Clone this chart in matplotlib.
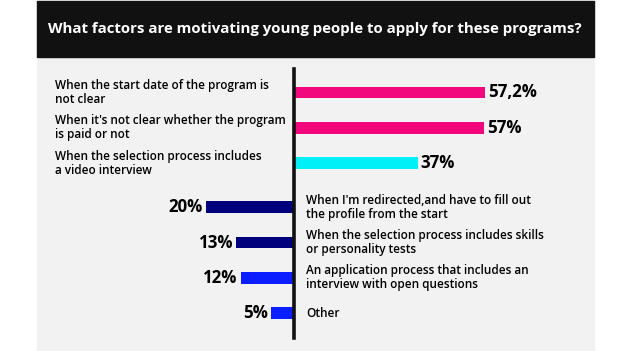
import numpy as np
import matplotlib.pyplot as plt
from matplotlib.patches import Rectangle
from matplotlib.lines import Line2D

plt.rcParams['font.family'] = ['Open Sans', 'DejaVu Sans']

title = "What factors are motivating young people to apply for these programs?"

# data
right_labels = ["When the start date of the program is\nnot clear",
                "When it's not clear whether the program\nis paid or not",
                "When the selection process includes\na video interview"]
right_values = [57.2, 57, 37]
right_text = ["57,2%", "57%", "37%"]
right_colors = ["#f2077c", "#f2077c", "#00f0f8"]

left_labels = ["When I'm redirected,and have to fill out\nthe profile from the start",
               "When the selection process includes skills\nor personality tests",
               "An application process that includes an\ninterview with open questions",
               "Other"]
left_values = [20, 13, 12, 5]
left_text = ["20%", "13%", "12%", "5%"]
left_colors = ["#00007d", "#00007d", "#0a1eff", "#0a1eff"]

W, H = 640, 351
fig = plt.figure(figsize=(W / 100, H / 100), dpi=100)
fig.patch.set_facecolor("white")

def px(x, y):
    return x / W, 1 - y / H

# background panel + title bar
fig.add_artist(Rectangle(px(37, 351), (594 - 37) / W, (351 - 57) / H,
                         transform=fig.transFigure, color="#f2f2f2", zorder=0))
fig.add_artist(Rectangle(px(37, 57), (594 - 37) / W, 56 / H,
                         transform=fig.transFigure, color="#111111", zorder=0))
fig.text(315 / W, 1 - 29 / H, title, color="white", fontsize=10.8,
         fontweight="bold", ha="center", va="center")

# slots: 3 rows right, then gap, 4 rows left
slot = 35.3
y0 = 92.5
pos_r = np.arange(3)
pos_l = np.arange(4) + 3.25
ylim = ((H - y0) / slot, -y0 / slot)

kL, kR = 4.35, 3.32   # px per percent
axL = fig.add_axes([0, 0, 293 / W, 1])
axR = fig.add_axes([295 / W, 0, (W - 295) / W, 1])
axL.set_xlim(293 / kL, 0)
axR.set_xlim(0, (W - 295) / kR)
for ax in (axL, axR):
    ax.set_ylim(*ylim)
    ax.axis("off")
    ax.patch.set_alpha(0)

bh = 11.5 / slot
axR.barh(pos_r, right_values, height=bh, color=right_colors)
axL.barh(pos_l, left_values, height=bh, color=left_colors)

lab_fs = 8.5
pct_fs = 12.2

for y, v, t, lab in zip(pos_r, right_values, right_text, right_labels):
    axR.text(v + 3 / kR, y, t, fontsize=pct_fs, fontweight="bold", va="center", ha="left")
    axL.text((293 - 55) / kL, y, lab, fontsize=lab_fs, fontweight="semibold",
             va="center", ha="left", linespacing=1.1)

for y, v, t, lab in zip(pos_l, left_values, left_text, left_labels):
    axL.text(v + 3 / kL, y, t, fontsize=pct_fs, fontweight="bold", va="center", ha="right")
    axR.text(11 / kR, y, lab, fontsize=lab_fs, fontweight="semibold",
             va="center", ha="left", linespacing=1.1)

# center axis line
fig.add_artist(Line2D([293.7 / W, 293.7 / W], [1 - 69 / H, 1 - 338 / H],
                      transform=fig.transFigure, color="#111111", lw=2.6))

fig.savefig("out.png", dpi=100, facecolor="white")
